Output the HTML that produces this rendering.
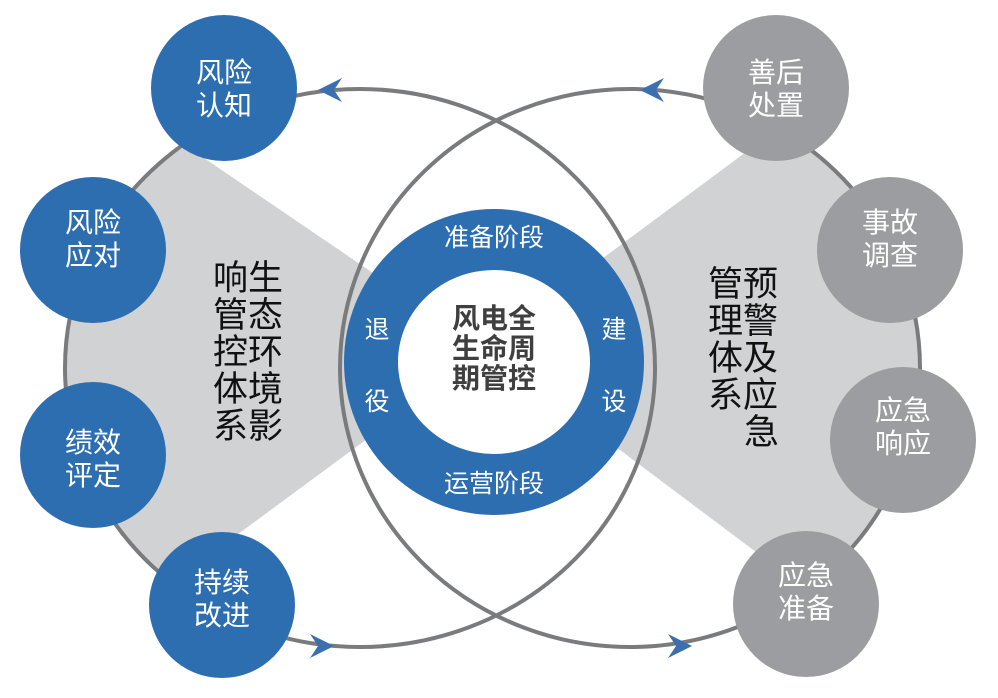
<!DOCTYPE html>
<html><head><meta charset="utf-8"><style>
body{margin:0;background:#fff}
svg text{font-family:"Liberation Sans","Noto Sans CJK SC",sans-serif}
</style></head><body>
<svg width="998" height="693" viewBox="0 0 998 693" xmlns="http://www.w3.org/2000/svg">
<defs>
<clipPath id="cl"><ellipse cx="360" cy="368" rx="295" ry="279"/></clipPath>
<clipPath id="cr"><ellipse cx="630" cy="368" rx="290" ry="279"/></clipPath>
</defs>
<g clip-path="url(#cl)"><polygon points="0,60 60,60 420,305 420,400 40,680 0,680" fill="#d1d2d3"/></g>
<g clip-path="url(#cr)"><polygon points="998,60 870,60 560,290 560,405 900,660 998,680" fill="#d1d2d3"/></g>
<ellipse cx="360" cy="368" rx="295" ry="279" fill="none" stroke="#7a7b7d" stroke-width="4"/>
<ellipse cx="630" cy="368" rx="290" ry="279" fill="none" stroke="#7a7b7d" stroke-width="4"/>
<g fill="#3b6fb0">
<polygon points="318,90 342,78 334,90 342,102"/>
<polygon points="640,90 664,78 656,90 664,102"/>
<polygon points="334,646 310,634 318,646 310,658"/>
<polygon points="692,646 668,634 676,646 668,658"/>
</g>
<ellipse cx="494" cy="362" rx="150" ry="153" fill="#2d6eb1"/>
<ellipse cx="494" cy="362" rx="96" ry="92" fill="#fff"/>
<g fill="#fff" font-size="25" text-anchor="middle">
<text x="494" y="246">准备阶段</text>
<text x="494" y="492">运营阶段</text>
<text x="377" y="338">退</text><text x="377" y="410">役</text>
<text x="614" y="338">建</text><text x="614" y="410">设</text>
</g>
<g fill="#3f3f40" font-size="28" font-weight="bold" text-anchor="middle">
<text x="494" y="328">风电全</text><text x="494" y="358">生命周</text><text x="494" y="388">期管控</text>
</g>
<g fill="#111" font-size="35">
<text x="213" y="290">响生</text><text x="213" y="327">管态</text><text x="213" y="364">控环</text><text x="213" y="401">体境</text><text x="213" y="438">系影</text>
<text x="708" y="296">管预</text><text x="708" y="333">理警</text><text x="708" y="370">体及</text><text x="708" y="407">系应</text><text x="744" y="444">急</text>
</g>
<g fill="#2d6eb1">
<circle cx="224" cy="88" r="73"/><circle cx="93" cy="250" r="73"/><circle cx="93" cy="455" r="73"/><circle cx="222" cy="605" r="73"/>
</g>
<g fill="#9c9da0">
<circle cx="776" cy="88" r="73"/><circle cx="890" cy="250" r="73"/><circle cx="903" cy="440" r="73"/><circle cx="806" cy="604" r="73"/>
</g>
<g fill="#fff" font-size="28" text-anchor="middle">
<text x="224" y="82">风险</text><text x="224" y="115">认知</text>
<text x="93" y="232">风险</text><text x="93" y="265">应对</text>
<text x="93" y="452">绩效</text><text x="93" y="485">评定</text>
<text x="222" y="592">持续</text><text x="222" y="625">改进</text>
<text x="776" y="82">善后</text><text x="776" y="115">处置</text>
<text x="890" y="232">事故</text><text x="890" y="265">调查</text>
<text x="903" y="420">应急</text><text x="903" y="453">响应</text>
<text x="806" y="585">应急</text><text x="806" y="618">准备</text>
</g>
</svg>
</body></html>
